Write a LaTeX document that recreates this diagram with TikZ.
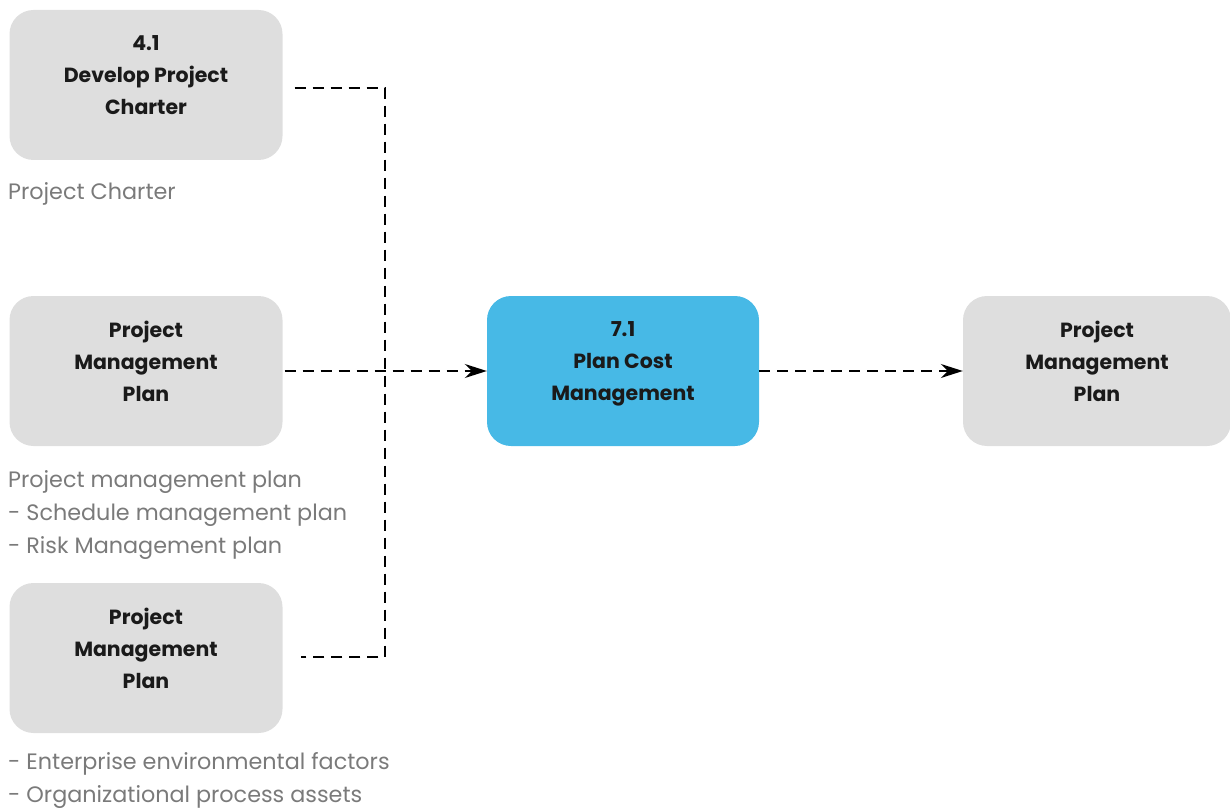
\documentclass[tikz,border=0pt]{standalone}
\usepackage{fontspec}
\setmainfont{Poppins}
\usetikzlibrary{positioning, arrows.meta, calc}
\definecolor{pGray}{HTML}{DEDEDE}
\definecolor{pBlue}{HTML}{47B9E6}
\definecolor{pText}{HTML}{7A7A7A}
\definecolor{pInk}{HTML}{1A1A1A}

\begin{document}
\begin{tikzpicture}[
  x=1pt, y=-1pt,
  proc/.style={fill=pGray, rounded corners=24pt, minimum width=273pt, minimum height=150pt,
               align=center, font=\fontsize{20.5}{32}\selectfont\bfseries, text=pInk, inner sep=0pt,
               execute at end node={\rule[-20pt]{0pt}{0pt}}},
  note/.style={anchor=north west, align=left, text=pText, font=\fontsize{22.3}{33}\selectfont, inner sep=0pt},
  flow/.style={line width=2.1pt, dash pattern=on 11pt off 7pt},
  tip/.style={-{Stealth[length=22pt, width=14pt]}},
]
  \useasboundingbox (0,0) rectangle (1230,810);

  \node[proc] (charter) at (146,85) {4.1\\Develop Project\\Charter};
  \node[proc] (pmplan) at (146,371) {Project\\Management\\Plan};
  \node[proc] (pmenv) at (146,658) {Project\\Management\\Plan};
  \node[proc, fill=pBlue, minimum width=272pt] (cost) at (623,371) {7.1\\Plan Cost\\Management};
  \node[proc, minimum width=268pt] (pmout) at (1097,371) {Project\\Management\\Plan};

  \node[note] (charterNote) at (8,182) {Project Charter};
  \node[note] (planNote) at (8,470)
    {Project management plan\\- Schedule management plan\\- Risk Management plan};
  \node[note] (envNote) at (8,752)
    {- Enterprise environmental factors\\- Organizational process assets};

  \coordinate (join) at (385,373);
  \draw[flow] ([shift={(12,3)}]charter.east) -| (join) |- ([shift={(18,-1)}]pmenv.east);
  \draw[flow, tip] ([xshift=2pt]pmplan.east) -- (cost.west);
  \draw[flow, tip] (cost.east) -- (pmout.west);
\end{tikzpicture}
\end{document}
